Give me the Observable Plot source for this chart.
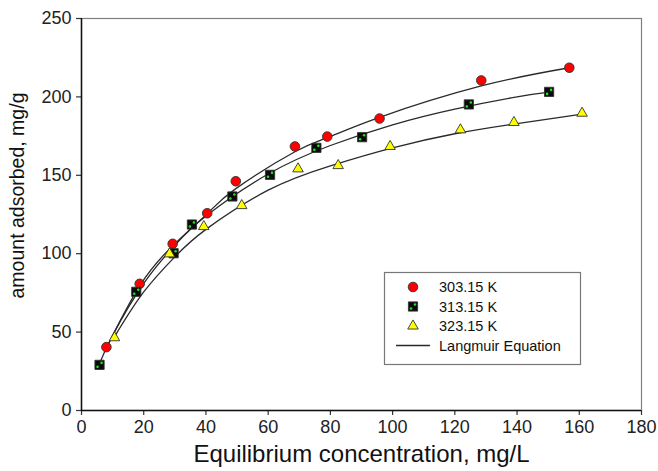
<!DOCTYPE html>
<html>
<head>
<meta charset="utf-8">
<script src="https://cdn.jsdelivr.net/npm/d3@7"></script>
<script src="https://cdn.jsdelivr.net/npm/@observablehq/plot@0.6"></script>
<style>
  html, body { margin: 0; padding: 0; background: white; }
  #chart { width: 658px; height: 471px; }
</style>
</head>
<body>
<div id="chart"></div>
<script>
// ---- data ----
const xTicks = [0, 20, 40, 60, 80, 100, 120, 140, 160, 180];
const yTicks = [0, 50, 100, 150, 200, 250];
const xTitle = "Equilibrium concentration, mg/L";
const yTitle = "amount adsorbed, mg/g";
const legendLabels = ["303.15 K", "313.15 K", "323.15 K", "Langmuir Equation"];

// 303.15 K (red circles)
const concRed = [8.0, 18.7, 29.3, 40.4, 49.6, 68.6, 79.0, 95.8, 128.5, 156.8];
const qRed    = [40.4, 80.8, 106.3, 125.8, 146.2, 168.4, 174.7, 186.2, 210.5, 218.6];
// 313.15 K (black squares with green dots)
const concGreen = [5.8, 17.6, 29.6, 35.5, 48.5, 60.6, 75.5, 90.2, 124.5, 150.3];
const qGreen    = [29.1, 75.7, 100.3, 118.6, 136.5, 150.3, 167.5, 174.3, 195.2, 203.2];
// 323.15 K (yellow triangles)
const concYellow = [10.6, 28.3, 39.3, 51.5, 69.6, 82.5, 99.2, 121.8, 139.0, 160.9];
const qYellow    = [46.4, 99.9, 117.3, 130.7, 154.1, 156.2, 168.4, 179.0, 183.7, 189.6];

// Langmuir fit curves
const fitConcRed = [8, 18.7, 29.3, 40.4, 49.6, 68.6, 79, 95.8, 128.5, 156.8];
const fitQRed    = [40.0, 79.5, 105.0, 125.5, 141.5, 165.0, 174.0, 187.0, 207.0, 218.6];
const fitConcGreen = [5.8, 10, 20, 30, 40, 60, 80, 100, 120, 140, 150.3];
const fitQGreen    = [30.0, 47.8, 81.0, 105.4, 124.0, 150.8, 169.0, 182.2, 192.2, 200.0, 203.0];
const fitConcYellow = [10.6, 20, 30, 40, 60, 80, 100, 120, 140, 160.9];
const fitQYellow    = [47.0, 75.6, 98.0, 115.5, 140.5, 156.0, 167.5, 176.5, 183.0, 189.0];

// ---- build tables ----
const toRows = (xs, ys) => xs.map((x, i) => ({x, y: ys[i]}));
const red = toRows(concRed, qRed);
const green = toRows(concGreen, qGreen);
const yellow = toRows(concYellow, qYellow);
const fits = [
  toRows(fitConcRed, fitQRed),
  toRows(fitConcGreen, fitQGreen),
  toRows(fitConcYellow, fitQYellow)
];

const lineColor = "#2a2a2a";
const markStroke = "#333";

const chart = Plot.plot({
  width: 658,
  height: 471,
  marginLeft: 81,
  marginRight: 17,
  marginTop: 18,
  marginBottom: 61,
  style: {fontFamily: "'Liberation Sans', Arial, sans-serif", fontSize: "18px", background: "white", color: "#222"},
  x: {domain: [0, 180]},
  y: {domain: [0, 250]},
  marks: [
    Plot.frame({stroke: "#808080", strokeWidth: 1.2}),
    Plot.axisX({ticks: xTicks, tickSize: 5, tickPadding: 5, label: null, stroke: "#333", strokeWidth: 1.2}),
    Plot.axisY({ticks: yTicks, tickSize: 5, tickPadding: 5, label: null, stroke: "#333", strokeWidth: 1.2}),
    Plot.ruleY([0], {stroke: "#111", strokeWidth: 1.5}),
    Plot.ruleX([0], {stroke: "#111", strokeWidth: 1.5}),
    ...fits.map(f => Plot.line(f, {x: "x", y: "y", curve: "natural", stroke: lineColor, strokeWidth: 1.3})),
    Plot.dot(red, {x: "x", y: "y", r: 4.8, fill: "#ff0000", stroke: markStroke, strokeWidth: 0.9}),
    Plot.dot(green, {x: "x", y: "y", symbol: "square", r: 5.2, fill: "#0a0a0a", stroke: markStroke, strokeWidth: 0.9}),
    Plot.dot(green, {x: "x", y: "y", r: 1.3, fill: "#22e022", dx: 2, dy: -2}),
    Plot.dot(green, {x: "x", y: "y", r: 1.3, fill: "#22e022", dx: -2, dy: 2}),
    Plot.dot(yellow, {x: "x", y: "y", symbol: "triangle", r: 3.9, fill: "#ffff00", stroke: markStroke, strokeWidth: 0.9}),
    Plot.text([xTitle], {frameAnchor: "bottom", dy: 51, fontSize: 24, fill: "#111"}),
    Plot.text([yTitle], {frameAnchor: "left", textAnchor: "middle", dx: -64, dy: -19, rotate: -90, fontSize: 19.5, fill: "#111"})
  ]
});

document.getElementById("chart").appendChild(chart);

// ---- legend box ----
const svg = d3.select(chart);
const lg = svg.append("g").attr("font-family", "'Liberation Sans', Arial, sans-serif").attr("text-anchor", "start");
lg.append("rect").attr("x", 384.5).attr("y", 272.5).attr("width", 196).attr("height", 92)
  .attr("fill", "white").attr("stroke", "#777").attr("stroke-width", 1.2);
const rowsY = [287, 306.5, 326, 345.5];
const mx = 413;
lg.append("circle").attr("cx", mx).attr("cy", rowsY[0]).attr("r", 4.8)
  .attr("fill", "#ff0000").attr("stroke", markStroke).attr("stroke-width", 0.9);
lg.append("path").attr("transform", `translate(${mx},${rowsY[1]})`)
  .attr("d", d3.symbol(d3.symbolSquare, Math.PI * 5.2 * 5.2)())
  .attr("fill", "#0a0a0a").attr("stroke", markStroke).attr("stroke-width", 0.9);
lg.append("circle").attr("cx", mx + 2).attr("cy", rowsY[1] - 2).attr("r", 1.3).attr("fill", "#22e022");
lg.append("circle").attr("cx", mx - 2).attr("cy", rowsY[1] + 2).attr("r", 1.3).attr("fill", "#22e022");
lg.append("path").attr("transform", `translate(${mx},${rowsY[2]})`)
  .attr("d", d3.symbol(d3.symbolTriangle, Math.PI * 3.9 * 3.9)())
  .attr("fill", "#ffff00").attr("stroke", markStroke).attr("stroke-width", 0.9);
lg.append("line").attr("x1", 396).attr("x2", 430).attr("y1", rowsY[3]).attr("y2", rowsY[3])
  .attr("stroke", lineColor).attr("stroke-width", 1.3);
legendLabels.forEach((t, i) => {
  lg.append("text").attr("x", 439).attr("y", rowsY[i]).attr("dy", "0.35em")
    .attr("font-size", 14.5).attr("fill", "#111").attr("text-anchor", "start").text(t);
});
</script>
</body>
</html>
